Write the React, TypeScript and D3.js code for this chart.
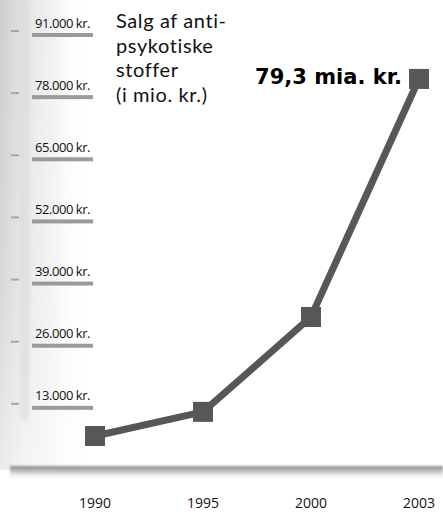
import React from 'react'
import * as d3 from 'd3'

// data
const years = ['1990', '1995', '2000', '2003']
const sales = [4600, 9650, 29500, 79300] // mio. kr.
const tickValues = [13000, 26000, 39000, 52000, 65000, 78000, 91000]
const tickLabels = ['13.000 kr.', '26.000 kr.', '39.000 kr.', '52.000 kr.', '65.000 kr.', '78.000 kr.', '91.000 kr.']
const titleLines = ['Salg af anti-', 'psykotiske', 'stoffer', '(i mio. kr.)']
const lastLabel = '79,3 mia. kr.'

const W = 443
const H = 512

export default function App() {
  const x = d3.scalePoint<string>().domain(years).range([95, 419])
  const y = d3.scaleLinear().domain([0, 91000]).range([458, 23])

  const pts: [number, number][] = years.map((yr, i) => [x(yr) as number, y(sales[i])])
  const path = d3.line()(pts) || ''

  const last = pts[pts.length - 1]

  return (
    <svg width={W} height={H} style={{ position: 'absolute', left: 0, top: 0, background: '#fff' }}>
      <defs>
        <linearGradient id="bgfade" x1="0" x2="1" y1="0" y2="0">
          <stop offset="0" stopColor="#cdcdcd" />
          <stop offset="0.3" stopColor="#e6e6e6" />
          <stop offset="0.6" stopColor="#f2f2f2" />
          <stop offset="1" stopColor="#ffffff" stopOpacity="0" />
        </linearGradient>
        <linearGradient id="vfade" x1="0" x2="0" y1="0" y2="1">
          <stop offset="0" stopColor="#fff" stopOpacity="0" />
          <stop offset="0.6" stopColor="#fff" stopOpacity="0.2" />
          <stop offset="1" stopColor="#fff" stopOpacity="0.6" />
        </linearGradient>
        <linearGradient id="shadow" x1="0" x2="0" y1="0" y2="1">
          <stop offset="0" stopColor="#888" />
          <stop offset="0.4" stopColor="#c4c4c4" />
          <stop offset="1" stopColor="#fff" stopOpacity="0" />
        </linearGradient>
        <filter id="blur"><feGaussianBlur stdDeviation="1" /></filter>
        <filter id="soft"><feGaussianBlur stdDeviation="3" /></filter>
      </defs>

      {/* faded background picture on the left */}
      <rect x={0} y={0} width={90} height={470} fill="url(#bgfade)" />
      <rect x={0} y={0} width={90} height={470} fill="url(#vfade)" />
      <rect x={20} y={0} width={10} height={420} fill="#d8d8d8" opacity={0.6} filter="url(#soft)" />

      {/* vertical axis */}
      <line x1={12} x2={12} y1={14} y2={468} stroke="#9a9a9a" strokeWidth={3} filter="url(#blur)" />
      {tickValues.map(v => (
        <line key={'t' + v} x1={11} x2={19} y1={y(v) + 8} y2={y(v) + 8} stroke="#a5a5a5" strokeWidth={2} />
      ))}

      {/* bottom axis with shadow */}
      <rect x={10} y={466} width={W - 10} height={14} fill="url(#shadow)" filter="url(#blur)" />
      <line x1={10} x2={W} y1={467} y2={467} stroke="#808080" strokeWidth={3} filter="url(#blur)" />

      {/* tick labels with bars */}
      {tickValues.map((v, i) => (
        <g key={v}>
          <text x={35} y={y(v) + 4.5} fontFamily="'Open Sans', sans-serif" fontSize={13} fill="#111" letterSpacing={-0.45}>
            {tickLabels[i]}
          </text>
          <rect x={32} y={y(v) + 10} width={61} height={4} fill="#9a9a9a" />
        </g>
      ))}

      {/* title */}
      <text fontFamily="Lato, sans-serif" fontSize={20} fill="#111" letterSpacing={0.6}>
        {titleLines.map((t, i) => (
          <tspan key={i} x={116} y={28 + i * 24.5}>{t}</tspan>
        ))}
      </text>

      {/* line and markers */}
      <path d={path} fill="none" stroke="#575757" strokeWidth={7} />
      {pts.map((p, i) => (
        <rect key={i} x={p[0] - 10} y={p[1] - 10} width={20} height={20} fill="#575757" />
      ))}

      <text x={last[0] - 17} y={last[1] + 5} textAnchor="end" fontFamily="'DejaVu Sans', sans-serif"
        fontWeight="bold" fontSize={21} fill="#000">
        {lastLabel}
      </text>

      {/* year labels */}
      {years.map(yr => (
        <text key={yr} x={x(yr)} y={508} textAnchor="middle" fontFamily="'Open Sans', sans-serif" fontSize={14} fill="#111">
          {yr}
        </text>
      ))}
    </svg>
  )
}
